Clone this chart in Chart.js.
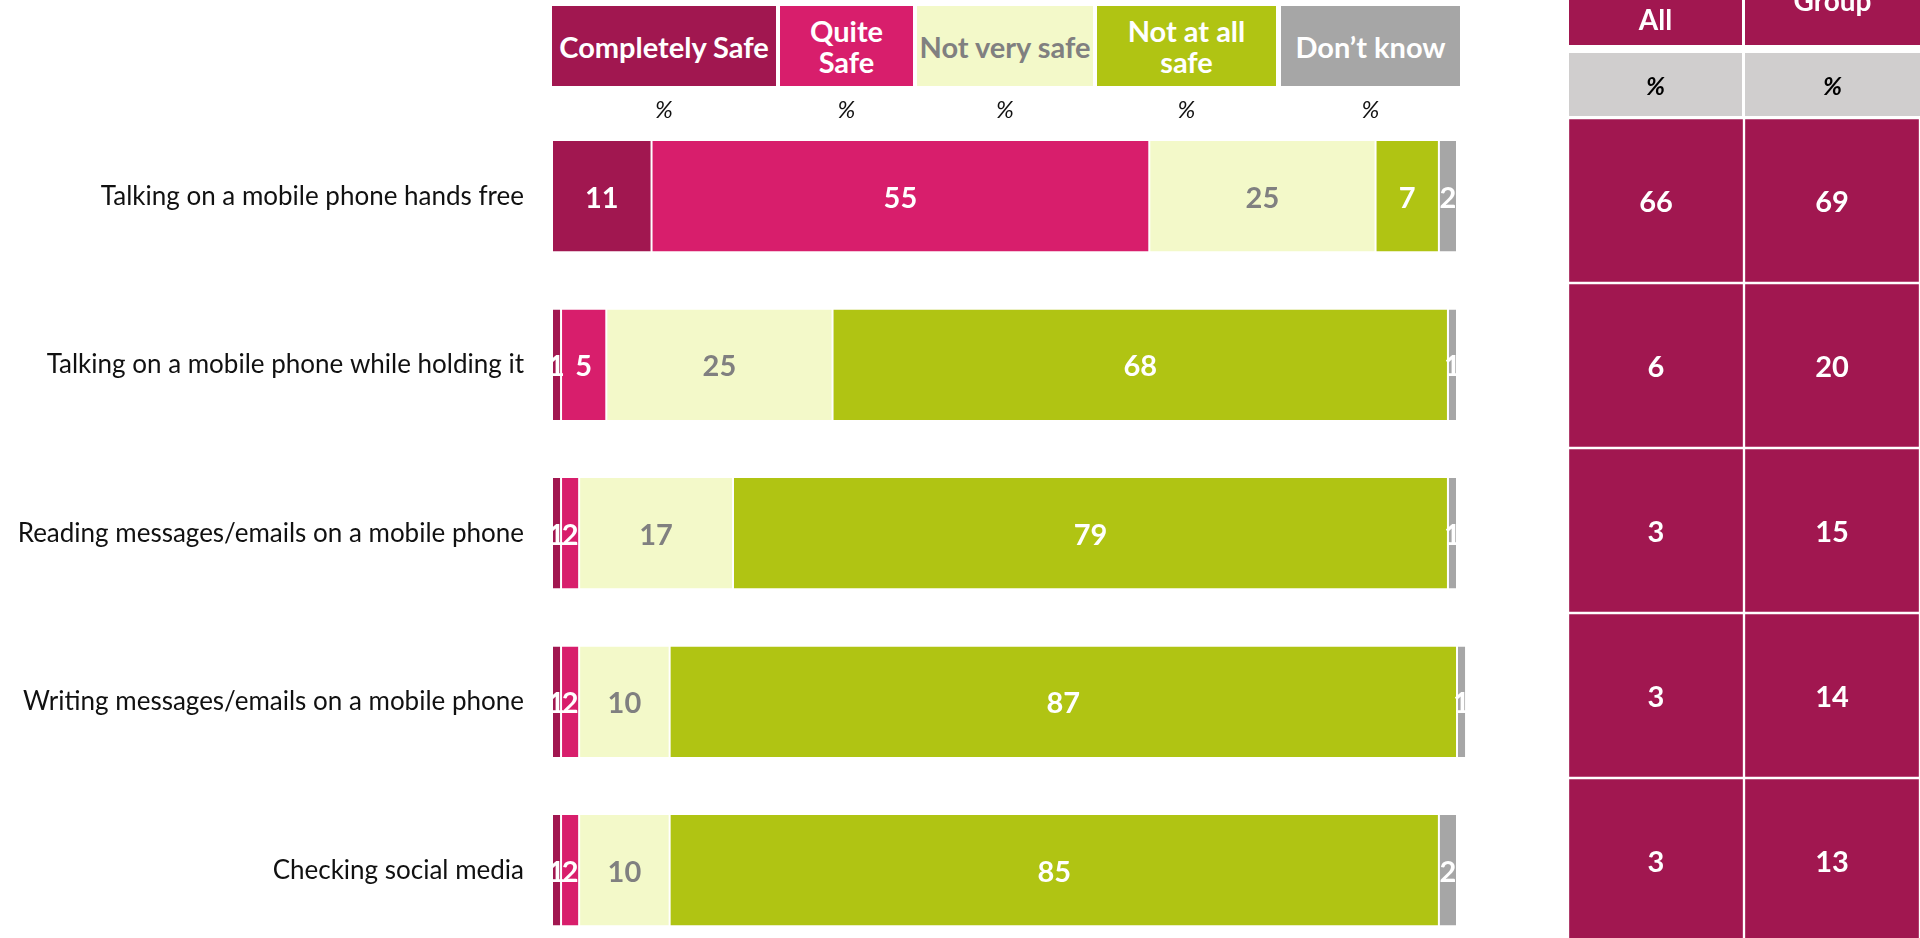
<!DOCTYPE html>
<html>
<head>
<meta charset="utf-8">
<script src="https://cdn.jsdelivr.net/npm/chart.js@4.4.1/dist/chart.umd.min.js"></script>
<style>
  html, body { margin: 0; padding: 0; background: #fff; width: 1920px; height: 938px; overflow: hidden; }
  #stage { position: relative; width: 1920px; height: 938px; overflow: hidden; font-family: Lato, "Open Sans", sans-serif; }
  .abs { position: absolute; }
  .legbox { position: absolute; display: flex; align-items: center; justify-content: center; text-align: center;
            font-weight: bold; font-size: 29px; line-height: 31px; }
  .pct { position: absolute; font-style: italic; font-size: 24px; text-align: center; color: #111; }
  .thead { position: absolute; background: #A11750; color: #fff; font-weight: bold; font-size: 28px; }
  .tgray { position: absolute; background: #D0CECE; color: #000; font-weight: bold; font-style: italic; font-size: 25px;
           display: flex; align-items: center; justify-content: center; }
  canvas { display: block; }
</style>
</head>
<body>
<div id="stage">
  <div class="abs" style="left:0;top:0;width:1470px;height:998px;"><canvas id="bars" width="1470" height="998" style="width:1470px;height:998px;"></canvas></div>
  <div class="abs" style="left:1568px;top:0;width:352px;height:960px;"><canvas id="table" width="352" height="960" style="width:352px;height:960px;"></canvas></div>
</div>
<script>
// ---------- DATA ----------
const categories = [
  "Talking on a mobile phone hands free",
  "Talking on a mobile phone while holding it",
  "Reading messages/emails on a mobile phone",
  "Writing messages/emails on a mobile phone",
  "Checking social media"
];
const seriesNames = ["Completely Safe", "Quite\nSafe", "Not very safe", "Not at all\nsafe", "Don\u2019t know"];
const completelySafe = [11, 1, 1, 1, 1];
const quiteSafe      = [55, 5, 2, 2, 2];
const notVerySafe    = [25, 25, 17, 10, 10];
const notAtAllSafe   = [7, 68, 79, 87, 85];
const dontKnow       = [2, 1, 1, 1, 2];
const tableColumns   = ["All", "Group"];
const allSafe        = [66, 6, 3, 3, 3];
const groupSafe      = [69, 20, 15, 14, 13];
const unitLabel      = "%";

// ---------- STYLE ----------
const seriesColors = ["#A11750", "#D81E6C", "#F3F9C9", "#B0C413", "#A6A6A6"];
const labelColors  = ["#FFFFFF", "#FFFFFF", "#808080", "#FFFFFF", "#FFFFFF"];
const legendTextColors = ["#FFFFFF", "#FFFFFF", "#808080", "#FFFFFF", "#FFFFFF"];
const legendLayout = [[552, 224], [780, 133], [917, 176], [1097, 179], [1281, 179]];
const FONT = "Lato, 'Open Sans', sans-serif";

const stage = document.getElementById('stage');
// legend boxes (HTML legend built from series arrays)
seriesNames.forEach((name, i) => {
  const [l, w] = legendLayout[i];
  const d = document.createElement('div');
  d.className = 'legbox';
  d.style.left = l + 'px'; d.style.top = '6px'; d.style.width = w + 'px'; d.style.height = '80px';
  d.style.background = seriesColors[i]; d.style.color = legendTextColors[i];
  d.innerHTML = name.split('\n').join('<br>');
  stage.appendChild(d);
  const p = document.createElement('div');
  p.className = 'pct';
  p.style.left = l + 'px'; p.style.width = w + 'px'; p.style.top = '94px';
  p.textContent = unitLabel;
  stage.appendChild(p);
});
// table headers
const colLayout = [[1569, 173], [1745, 175]];
tableColumns.forEach((name, i) => {
  const [l, w] = colLayout[i];
  const h = document.createElement('div');
  h.className = 'thead';
  h.style.left = l + 'px'; h.style.top = '-60px'; h.style.width = w + 'px'; h.style.height = '105px';
  const t = document.createElement('div');
  t.style.position = 'absolute'; t.style.left = '0'; t.style.width = '100%'; t.style.textAlign = 'center';
  t.style.lineHeight = '30px';
  t.style.top = (i === 0 ? 64 : 45) + 'px';
  t.textContent = name;
  h.appendChild(t);
  stage.appendChild(h);
  const g = document.createElement('div');
  g.className = 'tgray';
  g.style.left = l + 'px'; g.style.top = '53px'; g.style.width = w + 'px'; g.style.height = '63px';
  g.textContent = unitLabel;
  stage.appendChild(g);
});

// ---------- value label plugin ----------
const valueLabels = {
  id: 'valueLabels',
  afterDatasetsDraw(chart, args, opts) {
    const ctx = chart.ctx;
    ctx.save();
    ctx.font = opts.font;
    ctx.textAlign = 'center';
    ctx.textBaseline = 'middle';
    chart.data.datasets.forEach((ds, di) => {
      const meta = chart.getDatasetMeta(di);
      meta.data.forEach((el, i) => {
        const c = el.getCenterPoint();
        ctx.fillStyle = ds.labelColor;
        const txt = ds.labelValues ? ds.labelValues[i] : ds.data[i];
        ctx.fillText(String(txt), c.x, c.y + 2);
      });
    });
    ctx.restore();
  }
};

const seriesData = [completelySafe, quiteSafe, notVerySafe, notAtAllSafe, dontKnow];
new Chart(document.getElementById('bars'), {
  type: 'bar',
  data: {
    labels: categories,
    datasets: seriesData.map((d, i) => ({
      label: seriesNames[i].replace('\n', ' '),
      data: d,
      backgroundColor: seriesColors[i],
      borderColor: '#FFFFFF',
      borderWidth: { left: 1, right: 1, top: 0, bottom: 0 },
      borderSkipped: false,
      labelColor: labelColors[i],
      categoryPercentage: 1,
      barPercentage: 0.656,
      clip: false
    }))
  },
  options: {
    indexAxis: 'y',
    responsive: false,
    maintainAspectRatio: false,
    devicePixelRatio: 1,
    animation: false,
    layout: { padding: { top: 112, bottom: 2, left: 0, right: 13 } },
    plugins: {
      legend: { display: false },
      tooltip: { enabled: false },
      valueLabels: { font: "bold 29px " + FONT }
    },
    scales: {
      x: { stacked: true, min: 0, max: 100, display: false },
      y: {
        stacked: true,
        grid: { display: false, drawTicks: false },
        border: { display: false },
        ticks: { color: '#111', font: { family: FONT, size: 26 }, padding: 28, crossAlign: 'near' },
        afterFit(scale) { scale.width = 552; }
      }
    }
  },
  plugins: [valueLabels]
});

// ---------- table chart ----------
const tableValues = [allSafe, groupSafe];
new Chart(document.getElementById('table'), {
  type: 'bar',
  data: {
    labels: categories,
    datasets: tableValues.map((vals, i) => ({
      label: tableColumns[i],
      data: vals.map(() => 1),
      labelValues: vals,
      backgroundColor: '#A11750',
      borderColor: '#FFFFFF',
      borderWidth: 1.5,
      borderSkipped: false,
      labelColor: '#FFFFFF',
      categoryPercentage: 1,
      barPercentage: 1
    }))
  },
  options: {
    indexAxis: 'y',
    responsive: false,
    maintainAspectRatio: false,
    devicePixelRatio: 1,
    animation: false,
    layout: { padding: { top: 118, bottom: 17, left: 0, right: 0 } },
    plugins: {
      legend: { display: false },
      tooltip: { enabled: false },
      valueLabels: { font: "bold 29px " + FONT }
    },
    scales: {
      x: { stacked: true, min: 0, max: 2, display: false },
      y: { stacked: true, display: false }
    }
  },
  plugins: [valueLabels]
});
</script>
</body>
</html>
